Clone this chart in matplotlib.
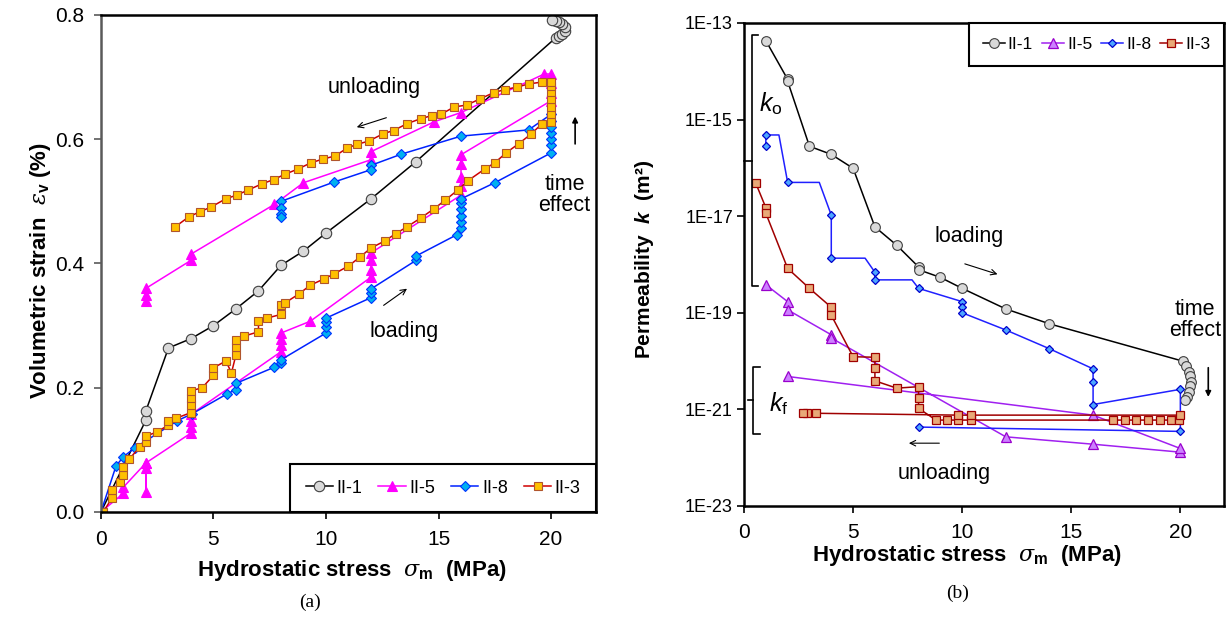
import matplotlib
matplotlib.use("Agg")
import matplotlib.pyplot as plt

plt.rcParams['font.family'] = ['Liberation Sans', 'DejaVu Sans']
plt.rcParams['mathtext.fontset'] = 'custom'
plt.rcParams['mathtext.rm'] = 'Liberation Sans'
plt.rcParams['mathtext.it'] = 'DejaVu Serif:italic'
plt.rcParams['mathtext.bf'] = 'Liberation Sans:bold'
plt.rcParams['mathtext.sf'] = 'Liberation Sans:italic'
plt.rcParams['mathtext.bfit'] = 'Liberation Sans:bold:italic'

# ---------------- (a) volumetric strain vs hydrostatic stress ----------------
s1_a = [0, 2, 2, 3, 4, 5, 6, 7, 8, 9, 10, 12, 14,
        20.2, 20.35, 20.5, 20.6, 20.6, 20.5, 20.35, 20.2, 20.05]
ev1_a = [0, 0.148, 0.163, 0.264, 0.279, 0.300, 0.327, 0.356, 0.397, 0.420, 0.449, 0.504, 0.564,
         0.763, 0.766, 0.770, 0.775, 0.780, 0.785, 0.789, 0.791, 0.792]

s5_a = [0, 1, 1, 2, 2, 2, 2, 4, 4, 4, 4, 8, 8, 8, 8, 9.3,
        12, 12, 12, 12, 16, 16, 16, 16, 16, 20, 20, 20, 20,
        19.7, 16, 14.8, 12, 12, 9.0, 7.7, 4, 4, 2, 2, 2]
ev5_a = [0, 0.03, 0.04, 0.079, 0.032, 0.07, 0.079, 0.127, 0.137, 0.147, 0.157, 0.258, 0.268, 0.278, 0.288, 0.307,
         0.378, 0.39, 0.405, 0.417, 0.51, 0.525, 0.54, 0.56, 0.575, 0.662, 0.675, 0.69, 0.705,
         0.705, 0.643, 0.628, 0.58, 0.567, 0.53, 0.495, 0.415, 0.405, 0.36, 0.35, 0.34]

s8_a = [0, 0.67, 1.0, 1.5, 3.4, 4.05, 5.6, 6, 6, 7.7, 8, 8,
        10, 10, 10, 10, 12, 12, 12, 14, 14, 15.8,
        16, 16, 16, 16, 16, 16, 17.5, 20, 20, 20, 20, 20, 20, 20,
        19.0, 16, 13.35, 12, 12, 10.35, 8, 8, 8, 8]
ev8_a = [0, 0.074, 0.089, 0.103, 0.147, 0.158, 0.19, 0.197, 0.207, 0.233, 0.24, 0.245,
         0.288, 0.297, 0.305, 0.312, 0.345, 0.352, 0.359, 0.405, 0.412, 0.446,
         0.457, 0.467, 0.477, 0.487, 0.497, 0.504, 0.53, 0.578, 0.59, 0.60, 0.61, 0.62, 0.63, 0.64,
         0.615, 0.605, 0.576, 0.558, 0.551, 0.531, 0.50, 0.49, 0.48, 0.475]

s3_a = [0.1, 0.5, 0.5, 0.85, 1.0, 1.0, 1.25, 1.74, 2.0, 2.0,
        2.5, 3.0, 3.0, 3.35, 4.0, 4.0, 4.0, 4.0, 4.5, 5.0,
        5.0, 5.55, 5.8, 6.0, 6.0, 6.0, 6.35, 7.0, 7.0, 7.37,
        8.0, 8.0, 8.2, 8.8, 9.3, 9.9, 10.35, 11.0, 11.5, 12.0,
        12.6, 13.1, 13.6, 14.2, 14.8, 15.3, 15.85, 16.3, 17.05, 17.5,
        18.0, 18.57, 19.1, 19.6, 20.0, 20.0, 20.0, 20.0, 20.0, 20.0,
        20.0,
        19.6, 19.0, 18.5, 17.95, 17.45, 16.85, 16.25, 15.7, 15.1, 14.7,
        14.2, 13.6, 13.0, 12.55, 11.9, 11.4, 10.95, 10.4, 9.85, 9.33,
        8.75, 8.2, 7.67, 7.14, 6.53, 6.03, 5.54, 4.9, 4.38, 3.9,
        3.3]
ev3_a = [0.0, 0.023, 0.035, 0.048, 0.06, 0.072, 0.085, 0.105, 0.112, 0.122,
         0.129, 0.14, 0.147, 0.151, 0.16, 0.172, 0.184, 0.195, 0.2, 0.22,
         0.232, 0.243, 0.224, 0.253, 0.265, 0.277, 0.283, 0.29, 0.308, 0.312,
         0.318, 0.333, 0.337, 0.351, 0.365, 0.375, 0.383, 0.396, 0.41, 0.425,
         0.436, 0.448, 0.459, 0.473, 0.488, 0.502, 0.518, 0.533, 0.552, 0.562,
         0.578, 0.593, 0.608, 0.625, 0.628, 0.64, 0.652, 0.664, 0.676, 0.686,
         0.692,
         0.692, 0.689, 0.684, 0.68, 0.675, 0.665, 0.655, 0.652, 0.64, 0.638,
         0.633, 0.625, 0.614, 0.609, 0.597, 0.592, 0.586, 0.573, 0.568, 0.562,
         0.552, 0.544, 0.535, 0.528, 0.518, 0.51, 0.504, 0.491, 0.483, 0.475,
         0.459]

# ---------------- (b) permeability vs hydrostatic stress ----------------
s1_b = [1, 2, 2, 3, 4, 5, 6, 7, 8, 8, 9, 10, 12, 14,
        20.1, 20.28, 20.39, 20.46, 20.49, 20.46, 20.39, 20.31, 20.23]
k1_b = [4.3e-14, 6.8e-15, 6.2e-15, 2.8e-16, 1.9e-16, 9.8e-17, 6.0e-18, 2.5e-18, 8.9e-19, 7.8e-19,
        5.4e-19, 3.2e-19, 1.2e-19, 5.9e-20,
        1.0e-20, 7.8e-21, 6.0e-21, 4.8e-21, 3.7e-21, 3.0e-21, 2.3e-21, 1.8e-21, 1.55e-21]

s5_b = [1, 2, 2, 4, 4, 12, 16, 20, 20, 16, 2]
k5_b = [3.8e-19, 1.7e-19, 1.15e-19, 3.5e-20, 3.0e-20, 2.7e-22, 1.9e-22, 1.3e-22, 1.55e-22, 7.6e-22, 4.8e-21]

s8_b = [1, 1, 1.6, 2, 3.45, 4, 4, 5.55, 6, 6, 7.7, 8,
        10, 10, 10, 12, 14, 16, 16, 16, 20, 20, 8]
k8_b = [2.8e-16, 4.8e-16, 4.8e-16, 5.0e-17, 5.0e-17, 1.05e-17, 1.35e-18, 1.35e-18, 6.9e-19, 4.8e-19, 4.8e-19, 3.2e-19,
        1.7e-19, 1.3e-19, 1.0e-19, 4.4e-20, 1.8e-20, 6.9e-21, 3.7e-21, 1.26e-21, 2.6e-21, 3.5e-22, 4.3e-22]
k8_marked = [0, 1, 3, 5, 6, 8, 9, 11, 12, 13, 14, 15, 16, 17, 18, 19, 20, 21, 22]

s3_b = [0.54, 1.0, 1.0, 2.0, 3.0, 4.0, 4.0, 5.0, 6.0, 6.0, 6.0, 7.0, 8.0, 8.0, 8.0,
        8.8, 9.3, 9.8, 10.4, 16.9, 17.45, 17.95, 18.5, 19.05, 19.55, 19.95,
        20.0, 10.4, 9.8, 3.3, 2.9, 2.7]
k3_b = [4.8e-17, 1.5e-17, 1.15e-17, 8.3e-19, 3.2e-19, 1.3e-19, 8.9e-20, 1.23e-20, 1.2e-20, 7.1e-21, 3.9e-21,
        2.75e-21, 2.95e-21, 1.7e-21, 1.05e-21,
        6.0e-22, 6.0e-22, 6.0e-22, 6.0e-22, 6.0e-22, 6.0e-22, 6.0e-22, 6.0e-22, 6.0e-22, 6.0e-22, 6.0e-22,
        7.6e-22, 7.6e-22, 7.6e-22, 8.3e-22, 8.3e-22, 8.3e-22]

labels = ['II-1', 'II-5', 'II-8', 'II-3']

fig = plt.figure(figsize=(12.31, 6.19), dpi=100)
axa = fig.add_axes([0.0820, 0.1729, 0.4022, 0.8029])
axb = fig.add_axes([0.6044, 0.1826, 0.3899, 0.7803])

leg_kw = dict(ncol=4, fontsize=13, frameon=True, fancybox=False, edgecolor='black', framealpha=1,
              borderaxespad=0, handlelength=1.5, handletextpad=0.2, columnspacing=0.9, borderpad=0.85)

# ---- panel (a)
axa.plot(s1_a, ev1_a, color='black', lw=1.1, marker='o', ms=7.5, mfc='#d9d9d9', mec='#404040', mew=0.8, label=labels[0])
axa.plot(s5_a, ev5_a, color='#ff00ff', lw=1.1, marker='^', ms=7, mfc='#ff00ff', mec='#ff00ff', mew=0.8, label=labels[1])
axa.plot(s8_a, ev8_a, color='#0022ff', lw=1.1, marker='D', ms=5, mfc='#00b0f0', mec='#0033ff', mew=0.8, label=labels[2])
axa.plot(s3_a, ev3_a, color='#d00000', lw=1.1, marker='s', ms=6, mfc='#ffc000', mec='#b0552c', mew=0.8, label=labels[3])

axa.set_xlim(0, 22)
axa.set_ylim(0, 0.8)
axa.set_xticks([0, 5, 10, 15, 20])
axa.set_yticks([0, 0.2, 0.4, 0.6, 0.8])
axa.set_yticklabels(['0.0', '0.2', '0.4', '0.6', '0.8'])
axa.tick_params(direction='out', length=5, width=1.2, labelsize=15)
axa.tick_params(axis='x', pad=8)
axa.tick_params(axis='y', pad=7, color='#5a5a5a')
for sp in axa.spines.values():
    sp.set_linewidth(1.8)
axa.spines['left'].set_color('#5a5a5a')

axa.set_xlabel(r'Hydrostatic stress  $\sigma_\mathbf{m}$  (MPa)', fontsize=16, fontweight='bold')
axa.set_ylabel(r'Volumetric strain  $\varepsilon_\mathbf{v}$ (%)', fontsize=16, fontweight='bold')
axa.xaxis.set_label_coords(0.507, -0.092)
axa.yaxis.set_label_coords(-0.096, 0.485)

leg = axa.legend(loc='lower right', **leg_kw)
leg.get_frame().set_linewidth(1.5)

axa.text(12.14, 0.683, 'unloading', fontsize=15.5, ha='center', va='center')
axa.annotate('', xy=(11.25, 0.618), xytext=(12.8, 0.636),
             arrowprops=dict(arrowstyle='->', lw=0.8, color='black'))
axa.text(13.48, 0.29, 'loading', fontsize=15.5, ha='center', va='center')
axa.annotate('', xy=(13.7, 0.362), xytext=(12.46, 0.33),
             arrowprops=dict(arrowstyle='->', lw=0.8, color='black'))
axa.text(20.6, 0.51, 'time\neffect', fontsize=15.5, ha='center', va='center', linespacing=1.0)
axa.annotate('', xy=(21.07, 0.641), xytext=(21.07, 0.588),
             arrowprops=dict(arrowstyle='-|>', lw=1.2, color='black', mutation_scale=8))

# ---- panel (b)
axb.plot(s1_b, k1_b, color='black', lw=1.1, marker='o', ms=7, mfc='#d9d9d9', mec='#404040', mew=0.8, label=labels[0])
axb.plot(s5_b, k5_b, color='#a020f0', lw=1.1, marker='^', ms=6.5, mfc='#cc80ff', mec='#9900cc', mew=0.9, label=labels[1])
axb.plot(s8_b, k8_b, color='#2020ff', lw=1.1, marker='D', ms=4.5, mfc='#4da6ff', mec='#0000cc', mew=0.9,
         markevery=k8_marked, label=labels[2])
axb.plot(s3_b, k3_b, color='#a00000', lw=1.1, marker='s', ms=6, mfc='#e8aa78', mec='#a00000', mew=0.9, label=labels[3])

axb.set_yscale('log')
axb.set_xlim(0, 22)
axb.set_ylim(1e-23, 1e-13)
axb.set_xticks([0, 5, 10, 15, 20])
axb.set_yticks([1e-23, 1e-21, 1e-19, 1e-17, 1e-15, 1e-13])
axb.set_yticklabels(['1E-23', '1E-21', '1E-19', '1E-17', '1E-15', '1E-13'])
axb.minorticks_off()
axb.tick_params(direction='out', length=5, width=1.2)
axb.tick_params(axis='x', labelsize=15, pad=7)
axb.tick_params(axis='y', labelsize=13, pad=3)
for sp in axb.spines.values():
    sp.set_linewidth(1.8)

axb.set_xlabel(r'Hydrostatic stress  $\sigma_\mathbf{m}$  (MPa)', fontsize=16, fontweight='bold')
axb.set_ylabel(r'Permeability  $\mathbfit{k}$  (m²)', fontsize=15, fontweight='bold')
axb.xaxis.set_label_coords(0.465, -0.076)
axb.yaxis.set_label_coords(-0.183, 0.51)

leg_kw.update(handlelength=1.3, columnspacing=0.5, fontsize=12.5, borderpad=0.8, handletextpad=0.15)
legb = axb.legend(loc='upper right', **leg_kw)
legb.get_frame().set_linewidth(1.5)

# brackets for k_o and k_f
axb.plot([0.64, 0.37, 0.37, 0.64], [10**-13.25, 10**-13.25, 10**-18.44, 10**-18.44], color='black', lw=1.2)
axb.plot([0.0, 0.37], [10**-15.86, 10**-15.86], color='black', lw=1.2, clip_on=False)
axb.plot([0.73, 0.41, 0.41, 0.73], [10**-20.12, 10**-20.12, 10**-21.51, 10**-21.51], color='black', lw=1.2)
axb.plot([0.18, 0.41], [10**-20.81, 10**-20.81], color='black', lw=1.2)
axb.text(1.24, 10**-14.66, r'$\mathsf{k}_\mathrm{o}$', fontsize=18, ha='center', va='center')
axb.text(1.6, 10**-20.87, r'$\mathsf{k}_\mathrm{f}$', fontsize=18, ha='center', va='center')

axb.text(10.3, 10**-17.43, 'loading', fontsize=15.5, ha='center', va='center')
axb.annotate('', xy=(11.74, 10**-18.22), xytext=(10.0, 10**-17.97),
             arrowprops=dict(arrowstyle='->', lw=0.8, color='black'))
axb.text(9.17, 10**-22.32, 'unloading', fontsize=15.5, ha='center', va='center')
axb.annotate('', xy=(7.43, 10**-21.7), xytext=(9.08, 10**-21.7),
             arrowprops=dict(arrowstyle='->', lw=0.8, color='black'))
axb.text(20.67, 10**-19.15, 'time\neffect', fontsize=15.5, ha='center', va='center', linespacing=1.0)
axb.annotate('', xy=(21.28, 10**-20.8), xytext=(21.28, 10**-20.08),
             arrowprops=dict(arrowstyle='-|>', lw=1.2, color='black', mutation_scale=8))

fig.text(310 / 1231, 1 - 602 / 619, '(a)', fontsize=14, family='Liberation Serif', ha='center', va='center')
fig.text(958 / 1231, 1 - 593 / 619, '(b)', fontsize=14, family='Liberation Serif', ha='center', va='center')

fig.savefig('out.png', dpi=100)
